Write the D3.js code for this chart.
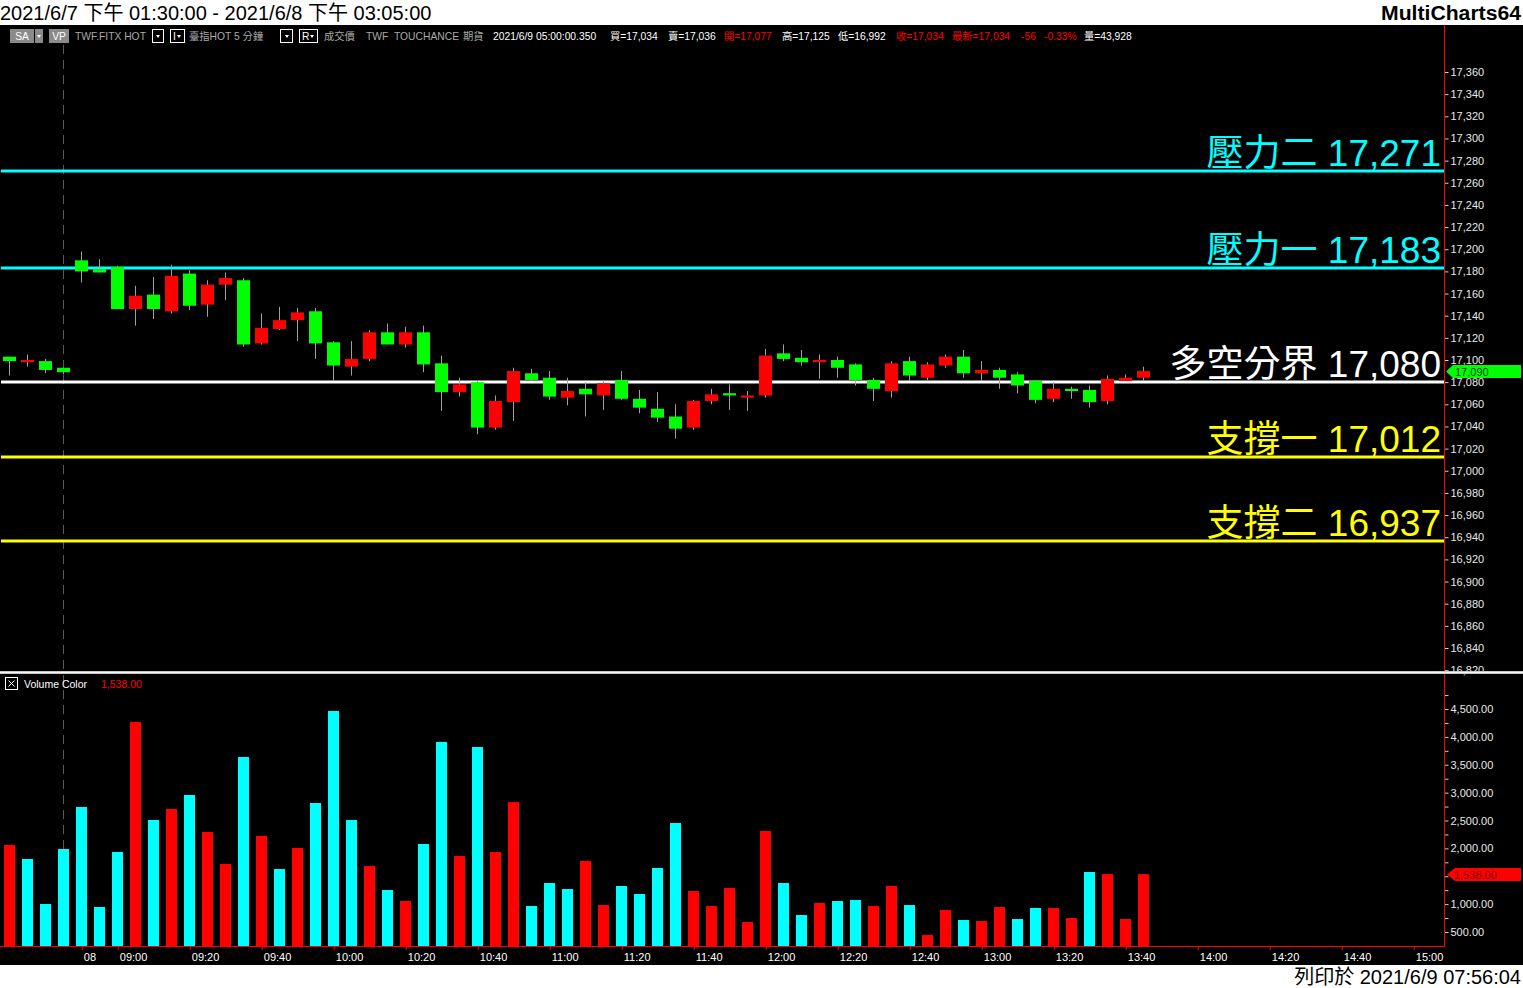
<!DOCTYPE html>
<html>
<head>
<meta charset="utf-8">
<script src="https://cdn.jsdelivr.net/npm/d3@7"></script>
<style>
html, body { margin: 0; padding: 0; background: #fff; overflow: hidden; }
svg { display: block; }
text { font-family: "Liberation Sans", Arial, "Noto Sans CJK TC", sans-serif; }
</style>
</head>
<body>
<svg id="chart"></svg>
<script>
// 5 minute bars, index 0..63 (first 4 belong to the previous session)
const opens  = [17103,17098,17099,17093,17190,17182,17184,17146,17159,17144,17178,17150,17168,17172,17115,17128,
                17136,17144,17116,17094,17101,17125,17114,17125,17097,17071,17080,17039,17062,17088,17084,17066,
                17074,17068,17082,17065,17056,17049,17039,17063,17070,17066,17068,17106,17102,17098,17100,17096,
                17082,17072,17099,17084,17095,17103,17088,17091,17087,17081,17065,17074,17073,17063,17081,17084];
const highs  = [17103,17105,17101,17093,17198,17191,17185,17167,17175,17186,17181,17172,17179,17174,17142,17148,
                17147,17147,17117,17117,17127,17133,17130,17131,17104,17084,17081,17068,17093,17092,17090,17084,
                17080,17082,17090,17073,17071,17060,17064,17074,17078,17072,17110,17114,17109,17105,17103,17097,
                17084,17099,17103,17098,17105,17109,17099,17093,17089,17081,17080,17076,17077,17086,17087,17094];
const lows   = [17086,17094,17088,17087,17170,17179,17146,17131,17137,17142,17145,17139,17154,17112,17114,17127,
                17117,17101,17081,17086,17099,17114,17111,17089,17054,17067,17033,17037,17045,17081,17064,17059,
                17049,17055,17064,17052,17044,17029,17037,17060,17055,17054,17066,17099,17095,17083,17084,17077,
                17063,17066,17081,17082,17093,17084,17081,17074,17070,17061,17062,17065,17057,17060,17081,17081];
const closes = [17099,17100,17091,17089,17180,17179,17146,17158,17146,17176,17149,17168,17174,17114,17129,17136,
                17143,17115,17095,17101,17125,17114,17125,17096,17071,17078,17039,17063,17090,17082,17067,17072,
                17069,17079,17065,17057,17048,17038,17063,17069,17068,17068,17104,17101,17098,17100,17093,17082,
                17074,17097,17086,17096,17103,17088,17091,17084,17077,17064,17074,17072,17062,17083,17084,17090];
const volumes = [2061,1810,1002,1989,2743,949,1935,4267,2509,2707,2958,2294,1720,3640,2222,1630,
                 2007,2814,4465,2509,1684,1253,1056,2079,3909,1863,3819,1935,2830,966,1379,1271,
                 1774,984,1325,1182,1648,2455,1236,966,1289,679,2312,1379,805,1020,1056,1074,
                 966,1325,984,446,895,715,697,949,733,931,931,751,1576,1540,733,1538];
// 1 = up volume (red), 0 = down volume (cyan)
const volumeUp = [1,0,0,0,0,0,0,1,0,1,0,1,1,0,1,0,
                  1,0,0,0,1,0,1,0,0,1,0,1,1,0,0,0,
                  1,1,0,0,0,0,1,1,1,1,1,0,0,1,0,0,
                  1,1,0,1,1,0,1,1,0,0,1,1,0,1,1,1];

const levelNames  = ["壓力二", "壓力一", "多空分界", "支撐一", "支撐二"];
const levelValues = [17271, 17183, 17080, 17012, 16937];
const levelKinds  = ["resist", "resist", "pivot", "support", "support"];

const timeTickIndex  = [4, 6, 10, 14, 18, 22, 26, 30, 34, 38, 42, 46, 50, 54, 58, 62, 66, 70, 74, 78];
const timeTickLabels = ["08","09:00","09:20","09:40","10:00","10:20","10:40","11:00","11:20","11:40",
                        "12:00","12:20","12:40","13:00","13:20","13:40","14:00","14:20","14:40","15:00"];
const sessionBreakIndex = 3;

const priceTicks = d3.range(16820, 17361, 20);
const volumeTicks = d3.range(500, 4751, 250);

const W = 1523, H = 988;
const axisX = 1444.5;
const volBottom = 946;

const svg = d3.select("#chart").attr("width", W).attr("height", H);

// background bands
svg.append("rect").attr("width", W).attr("height", H).attr("fill", "#fff");
svg.append("rect").attr("y", 25).attr("width", W).attr("height", 940).attr("fill", "#000");

// Scales
const x = d3.scaleLinear().domain([0, 78]).range([9.3, 9.3 + 18 * 78]);
const y = d3.scaleLinear().domain([16840, 17360]).range([648, 72]);
const yv = d3.scaleLinear().domain([500, 4500]).range([932, 709]);
const px = i => Math.round(x(i)) + 0.5;

const levelColor = {resist: "#00ffff", pivot: "#ffffff", support: "#ffff00"};

// title strip
svg.append("text")
    .attr("x", 0).attr("y", 20)
    .attr("font-family", "'Noto Sans CJK TC', sans-serif")
    .attr("font-size", 20).attr("fill", "#000")
    .text("2021/6/7 下午 01:30:00 - 2021/6/8 下午 03:05:00");
svg.append("text")
    .attr("x", 1521).attr("y", 20)
    .attr("text-anchor", "end")
    .attr("font-size", 20).attr("font-weight", "bold").attr("fill", "#000")
    .attr("textLength", 140).attr("lengthAdjust", "spacingAndGlyphs")
    .text("MultiCharts64");
svg.append("text")
    .attr("x", 1521).attr("y", 984)
    .attr("text-anchor", "end")
    .attr("font-family", "'Noto Sans CJK TC', sans-serif")
    .attr("font-size", 20).attr("fill", "#000")
    .text("列印於 2021/6/9 07:56:04");

// Session separator
svg.append("line")
    .attr("x1", px(sessionBreakIndex)).attr("x2", px(sessionBreakIndex))
    .attr("y1", 45).attr("y2", volBottom)
    .attr("stroke", "#5a5a5a").attr("stroke-dasharray", "9,6");

// Price pane
const pricePane = svg.append("g");

pricePane.selectAll(".level")
  .data(levelValues)
  .join("line")
    .attr("class", "level")
    .attr("x1", 1).attr("x2", axisX)
    .attr("y1", d => Math.round(y(d)))
    .attr("y2", d => Math.round(y(d)))
    .attr("stroke", (d, i) => levelColor[levelKinds[i]])
    .attr("stroke-width", 3);

pricePane.selectAll(".levelLabel")
  .data(levelValues)
  .join("text")
    .attr("class", "levelLabel")
    .attr("x", 1441)
    .attr("y", d => Math.round(y(d)) - 5)
    .attr("text-anchor", "end")
    .attr("font-family", "'Noto Sans CJK TC', sans-serif")
    .attr("font-size", 37)
    .attr("fill", (d, i) => levelColor[levelKinds[i]])
    .text((d, i) => levelNames[i] + " " + d3.format(",")(d));

const bars = d3.range(opens.length).map(i => ({
    i: i, o: opens[i], h: highs[i], l: lows[i], c: closes[i], v: volumes[i], up: volumeUp[i]
}));

pricePane.selectAll(".wick")
  .data(bars)
  .join("line")
    .attr("class", "wick")
    .attr("x1", d => px(d.i)).attr("x2", d => px(d.i))
    .attr("y1", d => y(d.h)).attr("y2", d => y(d.l))
    .attr("stroke", "#a0a0a0");

pricePane.selectAll(".body")
  .data(bars)
  .join("rect")
    .attr("class", "body")
    .attr("x", d => px(d.i) - 6.5)
    .attr("width", 13)
    .attr("y", d => y(Math.max(d.o, d.c)))
    .attr("height", d => Math.max(2, y(Math.min(d.o, d.c)) - y(Math.max(d.o, d.c))))
    .attr("fill", d => d.c >= d.o ? "#ff0000" : "#00ff00");

// price axis
const priceAxis = svg.append("g")
    .attr("transform", "translate(" + axisX + ",0)")
    .call(d3.axisRight(y).tickValues(priceTicks).tickFormat(d3.format(",")).tickSize(4).tickPadding(2));
priceAxis.select(".domain").remove();
priceAxis.selectAll("line").attr("stroke", "#d0d0d0");
priceAxis.selectAll("text")
    .attr("fill", "#e8e8e8")
    .attr("font-size", 11)
    .attr("font-family", "'Liberation Sans', Arial, sans-serif");

// last price marker
const lastY = Math.round(y(closes[closes.length - 1])) + 0.5;
svg.append("path")
    .attr("d", "M1446," + lastY + "L1453," + (lastY - 6.5) + "L1521," + (lastY - 6.5) +
               "L1521," + (lastY + 6.5) + "L1453," + (lastY + 6.5) + "Z")
    .attr("fill", "#00ff00");
svg.append("text")
    .attr("x", 1455).attr("y", lastY + 4)
    .attr("font-size", 11).attr("fill", "#0a3a0a")
    .text(d3.format(",")(closes[closes.length - 1]));

// Volume pane
const volPane = svg.append("g");
volPane.selectAll(".vol")
  .data(bars)
  .join("rect")
    .attr("class", "vol")
    .attr("x", d => px(d.i) - 5.5)
    .attr("width", 11)
    .attr("y", d => yv(d.v))
    .attr("height", d => volBottom - yv(d.v))
    .attr("fill", d => d.up ? "#ff0000" : "#00ffff");

const lastV = volumes[volumes.length - 1];
const lastVY = Math.round(yv(lastV)) + 0.5;

// labels hidden behind the last-volume marker are not drawn
const volAxis = svg.append("g")
    .attr("transform", "translate(" + axisX + ",0)")
    .call(d3.axisRight(yv).tickValues(volumeTicks)
        .tickFormat(d => (d % 500 === 0 && Math.abs(yv(d) - lastVY) > 10) ? d3.format(",.2f")(d) : "")
        .tickSize(4).tickPadding(2));
volAxis.select(".domain").remove();
volAxis.selectAll("line").attr("stroke", "#d0d0d0");
volAxis.selectAll("text")
    .attr("fill", "#e8e8e8")
    .attr("font-size", 11)
    .attr("font-family", "'Liberation Sans', Arial, sans-serif");

svg.append("path")
    .attr("d", "M1447," + lastVY + "L1455," + (lastVY - 6.5) + "L1521," + (lastVY - 6.5) +
               "L1521," + (lastVY + 6.5) + "L1455," + (lastVY + 6.5) + "Z")
    .attr("fill", "#ff0000");
svg.append("text")
    .attr("x", 1454).attr("y", lastVY + 4)
    .attr("font-size", 11).attr("fill", "#7a0000")
    .text(d3.format(",.2f")(lastV));

// volume header
svg.append("rect").attr("x", 5.5).attr("y", 677.5).attr("width", 12).attr("height", 12)
    .attr("fill", "none").attr("stroke", "#fff");
svg.append("path").attr("d", "M8.5,680.5L14.5,686.5M14.5,680.5L8.5,686.5").attr("stroke", "#fff");
svg.append("text").attr("x", 24).attr("y", 688).attr("font-size", 10.5).attr("fill", "#fff").text("Volume Color");
svg.append("text").attr("x", 101).attr("y", 688).attr("font-size", 10.5).attr("fill", "#ff0000")
    .text(d3.format(",.2f")(lastV));

// time axis
const timeAxis = svg.append("g")
    .attr("transform", "translate(0," + volBottom + ")")
    .call(d3.axisBottom(x).tickValues(timeTickIndex)
        .tickFormat((d, i) => timeTickLabels[i]).tickSize(4).tickPadding(3));
timeAxis.select(".domain").remove();
timeAxis.selectAll("line").attr("stroke", "#ff0000").attr("transform", "translate(0.5,0)");
timeAxis.selectAll("text")
    .attr("text-anchor", "start")
    .attr("x", 2)
    .attr("fill", "#fff")
    .attr("font-size", 11)
    .attr("font-family", "'Liberation Sans', Arial, sans-serif");

// frame lines
svg.append("line").attr("x1", 0).attr("x2", axisX).attr("y1", volBottom + 0.5).attr("y2", volBottom + 0.5)
    .attr("stroke", "#ff0000");
svg.append("line").attr("x1", axisX).attr("x2", axisX).attr("y1", 25).attr("y2", volBottom + 1)
    .attr("stroke", "#ff0000");
svg.append("rect").attr("x", 0).attr("y", 671).attr("width", W).attr("height", 3).attr("fill", "#c8c8c8");
svg.append("line").attr("x1", 0).attr("x2", W).attr("y1", 672.5).attr("y2", 672.5).attr("stroke", "#f4f4f4");

// status bar
const status = svg.append("g").attr("font-size", 10.3);
const gray = "#a8a8a8";

status.append("rect").attr("x", 10).attr("y", 29).attr("width", 24).attr("height", 14).attr("fill", "#8a8a8a");
status.append("rect").attr("x", 35).attr("y", 29).attr("width", 8).attr("height", 14).attr("fill", "#8a8a8a");
status.append("text").attr("x", 22).attr("y", 40).attr("text-anchor", "middle").attr("fill", "#fff").text("SA");
status.append("rect").attr("x", 49).attr("y", 29).attr("width", 20).attr("height", 14).attr("fill", "#8a8a8a");
status.append("text").attr("x", 59).attr("y", 40).attr("text-anchor", "middle").attr("fill", "#fff").text("VP");

const boxes = [[152, 11, ""], [170, 14, "I"], [280, 12, ""], [299, 18, "R"]];
boxes.forEach(b => {
    status.append("rect").attr("x", b[0] + 0.5).attr("y", 29.5).attr("width", b[1]).attr("height", 13)
        .attr("fill", "none").attr("stroke", "#fff");
    const tx = b[0] + b[1] - 5;
    status.append("path").attr("d", "M" + (tx - 2) + ",35L" + (tx + 2) + ",35L" + tx + ",38Z").attr("fill", "#fff");
    if (b[2]) status.append("text").attr("x", b[0] + 3).attr("y", 40).attr("fill", "#fff").text(b[2]);
});
status.append("path").attr("d", "M37,35L41,35L39,38Z").attr("fill", "#fff");

const statusItems = [
    ["TWF.FITX HOT", 75, gray], ["臺指HOT  5 分鐘", 189, gray],
    ["成交價", 324, gray], ["TWF", 366, gray], ["TOUCHANCE", 394, gray], ["期貨", 463, gray],
    ["2021/6/9", 493, "#fff"], ["05:00:00.350", 536, "#fff"],
    ["買=17,034", 610, "#fff"], ["賣=17,036", 668, "#fff"], ["開=17,077", 724, "#ff0000"],
    ["高=17,125", 782, "#fff"], ["低=16,992", 838, "#fff"], ["收=17,034", 896, "#ff0000"],
    ["最新=17,034", 952, "#ff0000"], ["-56", 1021, "#ff0000"], ["-0.33%", 1044, "#ff0000"],
    ["量=43,928", 1084, "#fff"]
];
status.selectAll(".st")
  .data(statusItems)
  .join("text")
    .attr("class", "st")
    .attr("x", d => d[1]).attr("y", 40)
    .attr("fill", d => d[2])
    .text(d => d[0]);
</script>
</body>
</html>
